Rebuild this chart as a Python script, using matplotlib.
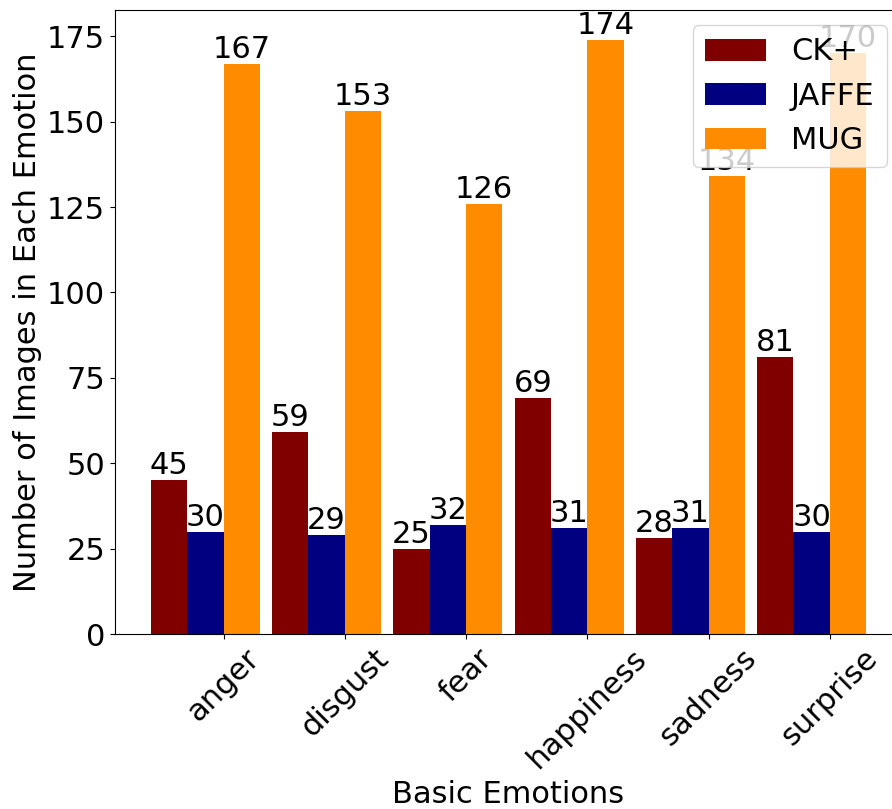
import numpy as np
import matplotlib
matplotlib.use("Agg")
import matplotlib.pyplot as plt

emotions = ["anger", "disgust", "fear", "happiness", "sadness", "surprise"]
ckplus = [45, 59, 25, 69, 28, 81]
jaffe = [30, 29, 32, 31, 31, 30]
mug = [167, 153, 126, 174, 134, 170]

series = [("CK+", ckplus, "#800000"), ("JAFFE", jaffe, "#000080"), ("MUG", mug, "#ff8c00")]

fig = plt.figure(figsize=(8.92, 8.09), dpi=100)
# right spine falls just past the image edge, as in the reference crop
ax = fig.add_axes([115 / 892, 175 / 809, 787 / 892, 624 / 809])

x = np.arange(len(emotions))
width = 0.3

for i, (name, vals, color) in enumerate(series):
    bars = ax.bar(x + (i - 1) * width, vals, width, color=color, label=name)
    for b, v in zip(bars, vals):
        ax.text(b.get_x() + b.get_width() / 2, v, str(v), ha="center", va="bottom", fontsize=22)

ax.set_xticks(x + width / 2)
ax.set_xticklabels(emotions, rotation=45, ha="center", fontsize=22)
ax.tick_params(axis="y", labelsize=22)
ax.set_xlabel("Basic Emotions", fontsize=22)
ax.set_ylabel("Number of Images in Each Emotion", fontsize=22)
ax.legend(fontsize=22, loc="upper right")

fig.savefig("out.png", dpi=100)
